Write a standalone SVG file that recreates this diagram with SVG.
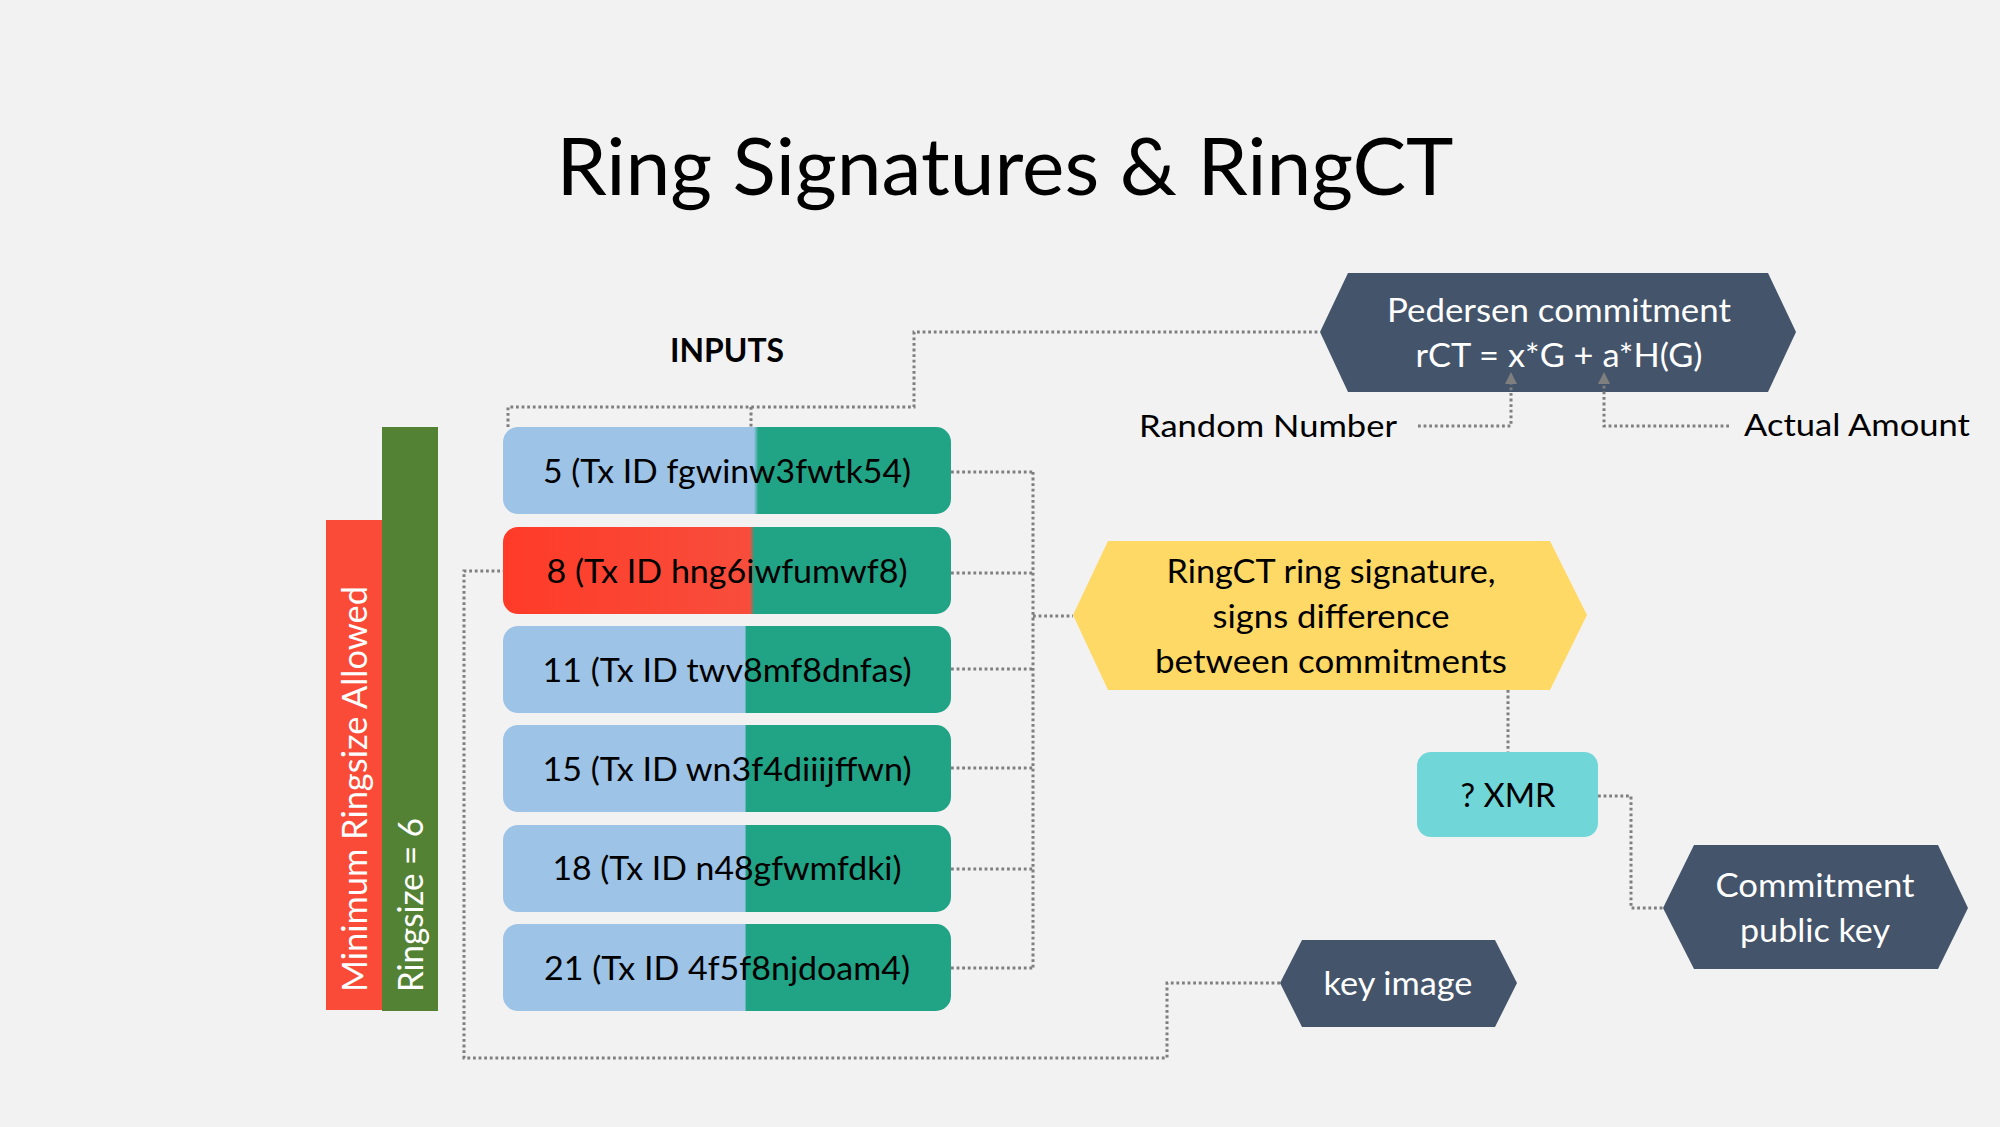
<svg xmlns="http://www.w3.org/2000/svg" width="2000" height="1127" viewBox="0 0 2000 1127">
  <style>
    text { font-family: "Lato", "Open Sans", "Liberation Sans", sans-serif; }
    .dk { fill: #000000; }
    .wt { fill: #FFFFFF; }
    .conn { fill: none; stroke: #7F7F7F; stroke-width: 3; stroke-dasharray: 2.8 2.8; }
    .arrowhead { fill: #7F7F7F; stroke: none; }
    .hexdark { fill: #44546A; }
    .bt { font-size: 32px; text-anchor: middle; }
  </style>
  <defs>
    <path id="arrowUp" d="M0,0 L6,12 L-6,12 z"/>
    <linearGradient id="g1" gradientUnits="userSpaceOnUse" x1="503" y1="0" x2="951" y2="0">
      <stop offset="0" stop-color="#9DC3E6"/>
      <stop offset="0.560" stop-color="#9DC3E6"/>
      <stop offset="0.570" stop-color="#21A386"/>
      <stop offset="1" stop-color="#21A386"/>
    </linearGradient>
    <linearGradient id="g2" gradientUnits="userSpaceOnUse" x1="503" y1="0" x2="951" y2="0">
      <stop offset="0" stop-color="#FF3B28"/>
      <stop offset="0.551" stop-color="#F84D3C"/>
      <stop offset="0.561" stop-color="#21A386"/>
      <stop offset="1" stop-color="#21A386"/>
    </linearGradient>
    <linearGradient id="g3" gradientUnits="userSpaceOnUse" x1="503" y1="0" x2="951" y2="0">
      <stop offset="0" stop-color="#9DC3E6"/>
      <stop offset="0.540" stop-color="#9DC3E6"/>
      <stop offset="0.543" stop-color="#21A386"/>
      <stop offset="1" stop-color="#21A386"/>
    </linearGradient>
  </defs>

  <rect x="0" y="0" width="2000" height="1127" fill="#F2F2F2"/>

  <text x="1005" y="195" font-size="80" text-anchor="middle" textLength="897" lengthAdjust="spacingAndGlyphs" class="dk">Ring Signatures &amp; RingCT</text>
  <text x="727" y="362" font-size="32" font-weight="bold" text-anchor="middle" textLength="114" lengthAdjust="spacingAndGlyphs" class="dk">INPUTS</text>

  <g id="min-ringsize">
    <rect x="326" y="520" width="56" height="490" fill="#F94B38"/>
    <text transform="translate(367,992) rotate(-90)" font-size="35" textLength="406" lengthAdjust="spacingAndGlyphs" class="wt">Minimum Ringsize Allowed</text>
  </g>
  <g id="ringsize">
    <rect x="382" y="427" width="56" height="584" fill="#548235"/>
    <text transform="translate(423,992) rotate(-90)" font-size="35" textLength="174" lengthAdjust="spacingAndGlyphs" class="wt">Ringsize = 6</text>
  </g>

  <g id="input-5">
    <rect x="503" y="427" width="448" height="87" rx="15" fill="url(#g1)"/>
    <text x="727" y="483" class="bt dk" textLength="368" lengthAdjust="spacingAndGlyphs">5 (Tx ID fgwinw3fwtk54)</text>
  </g>
  <g id="input-8">
    <rect x="503" y="527" width="448" height="87" rx="15" fill="url(#g2)"/>
    <text x="727" y="583" class="bt dk" textLength="361" lengthAdjust="spacingAndGlyphs">8 (Tx ID hng6iwfumwf8)</text>
  </g>
  <g id="input-11">
    <rect x="503" y="626" width="448" height="87" rx="15" fill="url(#g3)"/>
    <text x="727" y="682" class="bt dk" textLength="369" lengthAdjust="spacingAndGlyphs">11 (Tx ID twv8mf8dnfas)</text>
  </g>
  <g id="input-15">
    <rect x="503" y="725" width="448" height="87" rx="15" fill="url(#g3)"/>
    <text x="727" y="781" class="bt dk" textLength="369" lengthAdjust="spacingAndGlyphs">15 (Tx ID wn3f4diiijffwn)</text>
  </g>
  <g id="input-18">
    <rect x="503" y="825" width="448" height="87" rx="15" fill="url(#g3)"/>
    <text x="727" y="880" class="bt dk" textLength="349" lengthAdjust="spacingAndGlyphs">18 (Tx ID n48gfwmfdki)</text>
  </g>
  <g id="input-21">
    <rect x="503" y="924" width="448" height="87" rx="15" fill="url(#g3)"/>
    <text x="727" y="980" class="bt dk" textLength="366" lengthAdjust="spacingAndGlyphs">21 (Tx ID 4f5f8njdoam4)</text>
  </g>

  <g id="pedersen">
    <polygon class="hexdark" points="1320,332 1348,273 1768,273 1796,332 1768,392 1348,392"/>
    <text x="1559" y="322" class="bt wt" textLength="344" lengthAdjust="spacingAndGlyphs">Pedersen commitment</text>
    <text x="1559" y="367" class="bt wt" textLength="287" lengthAdjust="spacingAndGlyphs">rCT = x*G + a*H(G)</text>
  </g>

  <g id="random-number">
    <text x="1139" y="437" font-size="31" textLength="258" lengthAdjust="spacingAndGlyphs" class="dk">Random Number</text>
  </g>
  <g id="actual-amount">
    <text x="1744" y="436" font-size="31" textLength="226" lengthAdjust="spacingAndGlyphs" class="dk">Actual Amount</text>
  </g>

  <g id="ringct-signature">
    <polygon fill="#FFD966" points="1073,615 1108,541 1550,541 1587,615 1550,690 1108,690"/>
    <text x="1331" y="583" class="bt dk" textLength="329" lengthAdjust="spacingAndGlyphs">RingCT ring signature,</text>
    <text x="1331" y="628" class="bt dk" textLength="237" lengthAdjust="spacingAndGlyphs">signs difference</text>
    <text x="1331" y="673" class="bt dk" textLength="352" lengthAdjust="spacingAndGlyphs">between commitments</text>
  </g>

  <g id="xmr">
    <rect x="1417" y="752" width="181" height="85" rx="14" fill="#70D6D8"/>
    <text x="1508" y="807" class="bt dk" textLength="95" lengthAdjust="spacingAndGlyphs">? XMR</text>
  </g>

  <g id="commitment-public-key">
    <polygon class="hexdark" points="1663,908 1694,845 1938,845 1968,908 1938,969 1694,969"/>
    <text x="1815" y="897" class="bt wt" textLength="199" lengthAdjust="spacingAndGlyphs">Commitment</text>
    <text x="1815" y="942" class="bt wt" textLength="150" lengthAdjust="spacingAndGlyphs">public key</text>
  </g>

  <g id="key-image">
    <polygon class="hexdark" points="1280,983 1302,940 1495,940 1517,983 1495,1027 1302,1027"/>
    <text x="1398" y="995" class="bt wt" textLength="149" lengthAdjust="spacingAndGlyphs">key image</text>
  </g>

  <g id="connectors">
    <path class="conn" d="M508,427 V407 H914 V332 H1320"/>
    <path class="conn" d="M751,407 V427"/>
    <path class="conn" d="M951,472 H1033 M951,573 H1033 M951,669 H1033 M951,768 H1033 M951,869 H1033 M951,968 H1033 M1033,472 V968 M1033,616 H1073"/>
    <path class="conn" d="M1508,690 V752"/>
    <path class="conn" d="M1598,796 H1631 V908 H1663"/>
    <path class="conn" d="M1280,983 H1167 V1058 H464 V571 H503"/>
    <path class="conn" d="M1418,426 H1511 V382"/>
    <use href="#arrowUp" class="arrowhead" x="1511" y="372"/>
    <path class="conn" d="M1729,426 H1604 V382"/>
    <use href="#arrowUp" class="arrowhead" x="1604" y="372"/>
  </g>
</svg>
